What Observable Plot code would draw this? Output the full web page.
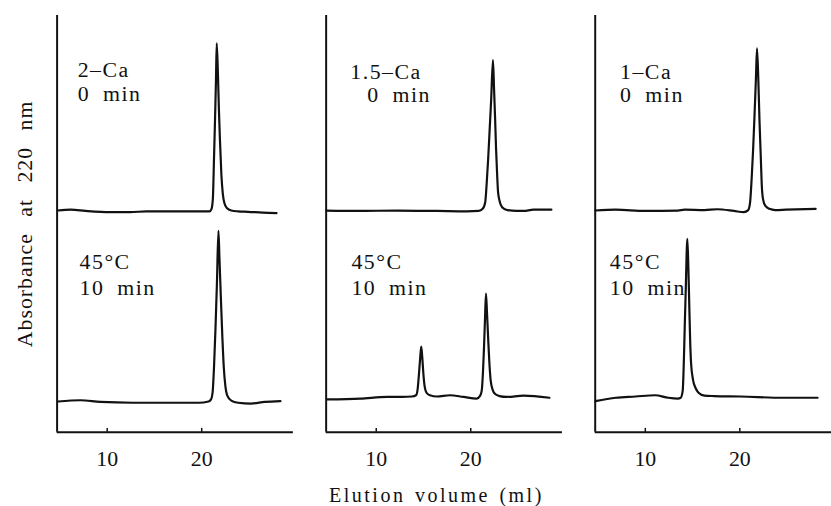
<!DOCTYPE html>
<html>
<head>
<meta charset="utf-8">
<script src="https://cdn.jsdelivr.net/npm/d3@7"></script>
<script src="https://cdn.jsdelivr.net/npm/@observablehq/plot@0.6"></script>
<style>
html, body { margin: 0; padding: 0; background: #fff; overflow: hidden; width: 831px; height: 506px; }
#caption { font-family: 'Liberation Serif', 'Times New Roman', 'DejaVu Serif', serif; font-size: 20px; letter-spacing: 2.5px; word-spacing: 2px; line-height: 28px; padding-left: 329px; color: #111; white-space: nowrap; }
</style>
</head>
<body>
<div id="chart"></div>
<div id="caption"></div>
<script>
// ---- data (elution volume in ml, absorbance in arbitrary units with trace offsets) ----
const panelKeys = ["2-Ca", "1.5-Ca", "1-Ca"];
const xTicks = [10, 20];
const xDomain = [4.7, 29.7];
const yTitle = "Absorbance at 220 nm";
const xTitle = "Elution volume (ml)";

const trace2Ca_0min = [[4.79,0.532],[6.15,0.534],[7.71,0.531],[10.31,0.528],[12.40,0.528],[14.17,0.530],[15.52,0.530],[18.65,0.530],[20.21,0.530],[20.83,0.530],[21.04,0.536],[21.18,0.560],[21.30,0.655],[21.41,0.750],[21.51,0.845],[21.59,0.933],[21.72,0.857],[21.82,0.774],[21.93,0.702],[22.08,0.619],[22.24,0.571],[22.40,0.550],[22.66,0.538],[23.13,0.532],[23.85,0.530],[24.90,0.529],[26.46,0.527],[27.92,0.526]];
const trace2Ca_10min = [[4.79,0.074],[7.19,0.077],[9.27,0.073],[12.71,0.071],[16.25,0.071],[19.69,0.071],[20.73,0.074],[20.99,0.079],[21.15,0.095],[21.30,0.155],[21.46,0.250],[21.61,0.357],[21.77,0.483],[21.88,0.417],[22.03,0.321],[22.19,0.226],[22.34,0.155],[22.50,0.112],[22.71,0.088],[23.13,0.076],[23.85,0.071],[25.21,0.069],[26.67,0.073],[28.33,0.075]];
const trace15Ca_0min = [[4.74,0.532],[8.0,0.531],[12.21,0.532],[16.42,0.531],[19.58,0.530],[20.84,0.531],[21.26,0.536],[21.53,0.552],[21.68,0.595],[21.84,0.655],[22.0,0.726],[22.16,0.798],[22.35,0.893],[22.47,0.821],[22.58,0.750],[22.68,0.679],[22.79,0.619],[22.89,0.576],[23.05,0.555],[23.32,0.540],[23.89,0.533],[24.84,0.531],[25.58,0.531],[26.63,0.534],[28.53,0.534]];
const trace15Ca_10min = [[4.84,0.079],[8.32,0.081],[11.16,0.085],[12.74,0.085],[13.79,0.086],[14.21,0.089],[14.37,0.102],[14.53,0.143],[14.65,0.179],[14.76,0.206],[14.86,0.183],[14.98,0.143],[15.11,0.112],[15.32,0.095],[15.68,0.089],[16.42,0.086],[17.79,0.089],[19.23,0.085],[20.63,0.081],[21.0,0.088],[21.16,0.100],[21.29,0.143],[21.40,0.202],[21.51,0.274],[21.61,0.333],[21.72,0.286],[21.84,0.226],[21.97,0.167],[22.11,0.124],[22.32,0.102],[22.58,0.092],[23.05,0.087],[23.79,0.085],[25.58,0.088],[28.32,0.083]];
const trace1Ca_0min = [[4.72,0.532],[6.88,0.534],[10.0,0.531],[13.44,0.532],[14.17,0.534],[16.25,0.533],[17.60,0.535],[19.38,0.531],[20.42,0.528],[20.89,0.533],[21.09,0.552],[21.25,0.607],[21.41,0.679],[21.56,0.762],[21.70,0.845],[21.82,0.921],[21.96,0.845],[22.08,0.750],[22.21,0.667],[22.32,0.595],[22.45,0.560],[22.71,0.543],[23.13,0.536],[23.75,0.533],[24.90,0.534],[28.02,0.536]];
const trace1Ca_10min = [[4.72,0.075],[6.88,0.083],[8.96,0.086],[11.04,0.089],[12.43,0.083],[13.44,0.081],[13.75,0.083],[13.96,0.100],[14.06,0.155],[14.17,0.250],[14.27,0.333],[14.45,0.464],[14.56,0.393],[14.66,0.298],[14.74,0.226],[14.84,0.167],[15.05,0.126],[15.31,0.107],[15.63,0.095],[16.25,0.088],[17.29,0.087],[20.07,0.086],[24.58,0.083],[28.23,0.083]];

// panel annotations (anchored in data units)
const labelPanels = ["2-Ca","2-Ca","2-Ca","2-Ca","1.5-Ca","1.5-Ca","1.5-Ca","1.5-Ca","1-Ca","1-Ca","1-Ca","1-Ca"];
const labelTexts  = ["2–Ca","0 min","45°C","10 min","1.5–Ca","0 min","45°C","10 min","1–Ca","0 min","45°C","10 min"];
const labelMl     = [6.88, 6.88, 7.08, 7.08, 7.26, 9.05, 7.37, 7.37, 7.33, 7.33, 6.25, 6.25];
const labelAbs    = [0.889, 0.831, 0.428, 0.367, 0.885, 0.829, 0.428, 0.367, 0.885, 0.829, 0.428, 0.367];

// ---- build tables ----
const traces = [
  {panel: "2-Ca", trace: "2-Ca 0", pts: trace2Ca_0min},
  {panel: "2-Ca", trace: "2-Ca 10", pts: trace2Ca_10min},
  {panel: "1.5-Ca", trace: "1.5-Ca 0", pts: trace15Ca_0min},
  {panel: "1.5-Ca", trace: "1.5-Ca 10", pts: trace15Ca_10min},
  {panel: "1-Ca", trace: "1-Ca 0", pts: trace1Ca_0min},
  {panel: "1-Ca", trace: "1-Ca 10", pts: trace1Ca_10min}
];
const series = traces.flatMap(t => t.pts.map(([ml, abs]) => ({panel: t.panel, trace: t.trace, ml, abs})));
const labels = labelTexts.map((text, i) => ({panel: labelPanels[i], text, x: labelMl[i], y: labelAbs[i]}));

const ink = "#111";
const chart = Plot.plot({
  width: 837,
  height: 484,
  marginLeft: 57,
  marginRight: 0,
  marginTop: 15,
  marginBottom: 49,
  style: {fontFamily: "'Liberation Serif', 'Times New Roman', 'DejaVu Serif', serif", fontSize: "22px", color: ink, background: "#fff", overflow: "visible"},
  fx: {domain: panelKeys, paddingInner: 0.1218, paddingOuter: 0, axis: null, round: false},
  x: {domain: xDomain},
  y: {domain: [0, 1]},
  marks: [
    Plot.ruleY([0], {stroke: ink, strokeWidth: 2}),
    Plot.ruleX([xDomain[0]], {stroke: ink, strokeWidth: 2}),
    Plot.ruleX(xTicks, {stroke: ink, strokeWidth: 1.5, insetTop: 416}),
    Plot.axisX({ticks: xTicks, tickSize: 0, tickPadding: 18, label: null, fontSize: 22}),
    Plot.axisY({ticks: [], tickSize: 0, label: yTitle, labelAnchor: "center", labelArrow: "none", labelOffset: 41, fontSize: 22}),
    Plot.line(series, {x: "ml", y: "abs", z: "trace", fx: "panel", stroke: ink, strokeWidth: 2.2, curve: "monotone-x", strokeLinejoin: "round"}),
    Plot.text(labels, {x: "x", y: "y", fx: "panel", text: "text", textAnchor: "start", lineAnchor: "top", fontSize: 22, fill: ink})
  ]
});
document.getElementById("chart").appendChild(chart);
const sel = d3.select(chart);
sel.selectAll("text").style("letter-spacing", "1.5px").style("word-spacing", "6px");
sel.selectAll('[aria-label="x-axis tick label"] text').style("letter-spacing", "0px");
sel.selectAll('[aria-label="y-axis label"] text').style("letter-spacing", "1px").style("word-spacing", "10px");
document.getElementById("caption").textContent = xTitle;
</script>
</body>
</html>
